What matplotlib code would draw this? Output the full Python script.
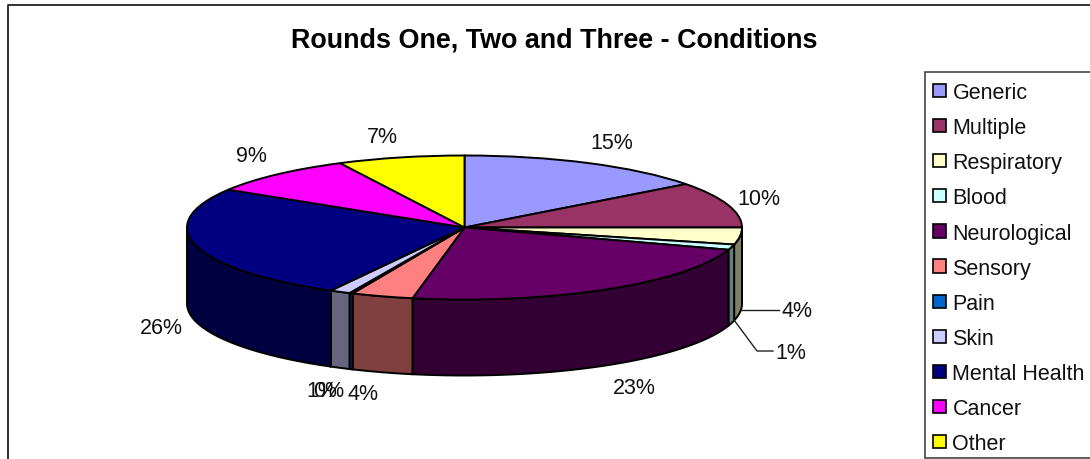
import numpy as np
import matplotlib
matplotlib.use("Agg")
import matplotlib.pyplot as plt
from matplotlib.patches import Polygon, Patch, Rectangle

plt.rcParams['font.family'] = ['Liberation Sans', 'DejaVu Sans']

title = "Rounds One, Two and Three - Conditions"
categories = ["Generic", "Multiple", "Respiratory", "Blood", "Neurological", "Sensory",
              "Pain", "Skin", "Mental Health", "Cancer", "Other"]
values = [14.7, 10.3, 3.8, 1.2, 23.0, 3.6, 0.2, 1.2, 25.8, 8.8, 7.4]
colors = ["#9999FF", "#993366", "#FFFFCC", "#CCFFFF", "#660066", "#FF8080",
          "#0066CC", "#CCCCFF", "#000080", "#FF00FF", "#FFFF00"]
wall_colors = ["#4C4C80", "#4D1A33", "#808066", "#668080", "#330033", "#804040",
               "#003366", "#666680", "#000040", "#800080", "#808000"]
label_xy = [(612, 144), (759, 200), (797, 312), (791, 354), (634, 389), (363, 395),
            (329, 392), (322, 392), (161, 329), (251, 157), (382, 138)]

W, H = 1090, 460
fig = plt.figure(figsize=(W / 100, H / 100), dpi=100, facecolor="white")

# overlay in pixel coordinates
ov = fig.add_axes([0, 0, 1, 1], zorder=3)
ov.set_xlim(0, W)
ov.set_ylim(H, 0)
ov.axis("off")

# pie axes: unit circle maps to the projected ellipse
cx, cy, rx, ry, depth = 464.5, 228.5, 277.5, 72, 76
ax = fig.add_axes([(cx - rx) / W, 1 - (cy + ry) / H, 2 * rx / W, 2 * ry / H], zorder=2)
lw = 1.4
ax.pie(values, colors=colors, startangle=90, counterclock=False, radius=1,
       wedgeprops=dict(edgecolor="black", linewidth=lw, clip_on=False), normalize=True)
ax.set_aspect("auto")
ax.set_xlim(-1, 1)
ax.set_ylim(-1, 1)
ax.axis("off")

# side wall: visible front arc of every slice (clockwise angle from 12 o'clock)
d = depth / ry
edges = np.cumsum([0] + values) / sum(values) * 360
for i in range(len(values)):
    a0, a1 = max(edges[i], 90), min(edges[i + 1], 270)
    if a1 <= a0:
        continue
    t = np.radians(np.linspace(a0, a1, 60))
    x, y = np.sin(t), np.cos(t)
    pts = np.column_stack([np.r_[x, x[::-1]], np.r_[y, y[::-1] - d]])
    ax.add_patch(Polygon(pts, closed=True, facecolor=wall_colors[i], edgecolor="black",
                         linewidth=lw, clip_on=False, zorder=0))

# outer chart frame (cut by the image on the right and bottom)
ov.plot([8, 8, W + 5], [H + 5, 6, 6], color="#222222", lw=1.3, clip_on=False)

ov.text(554, 41, title, ha="center", va="center", fontsize=19.4, fontweight="bold", color="black")

# value labels
for v, (lx, ly) in zip(values, label_xy):
    ov.text(lx, ly, f"{round(v)}%", ha="center", va="center", fontsize=15.5, color="#111111")

# leader lines
ov.plot([741, 779], [311, 311], color="#222222", lw=1)
ov.plot([734, 757, 773], [321, 352, 352], color="#222222", lw=1)

# legend box and entries
ov.add_patch(Rectangle((925, 73), 175, 386, facecolor="white", edgecolor="#444444",
                       linewidth=1.2, clip_on=True))
handles = [Patch(facecolor=c, edgecolor="black", linewidth=1.2) for c in colors]
leg = ov.legend(handles, categories, loc="upper left",
                bbox_to_anchor=(925.5 / W, 1 - 75 / H), bbox_transform=fig.transFigure,
                fontsize=15.5, frameon=False,
                handlelength=0.58, handleheight=0.58, handletextpad=0.3,
                labelspacing=0.657, borderpad=0.37, borderaxespad=0, labelcolor="#111111")

fig.savefig("out.png", dpi=100, facecolor="white")
